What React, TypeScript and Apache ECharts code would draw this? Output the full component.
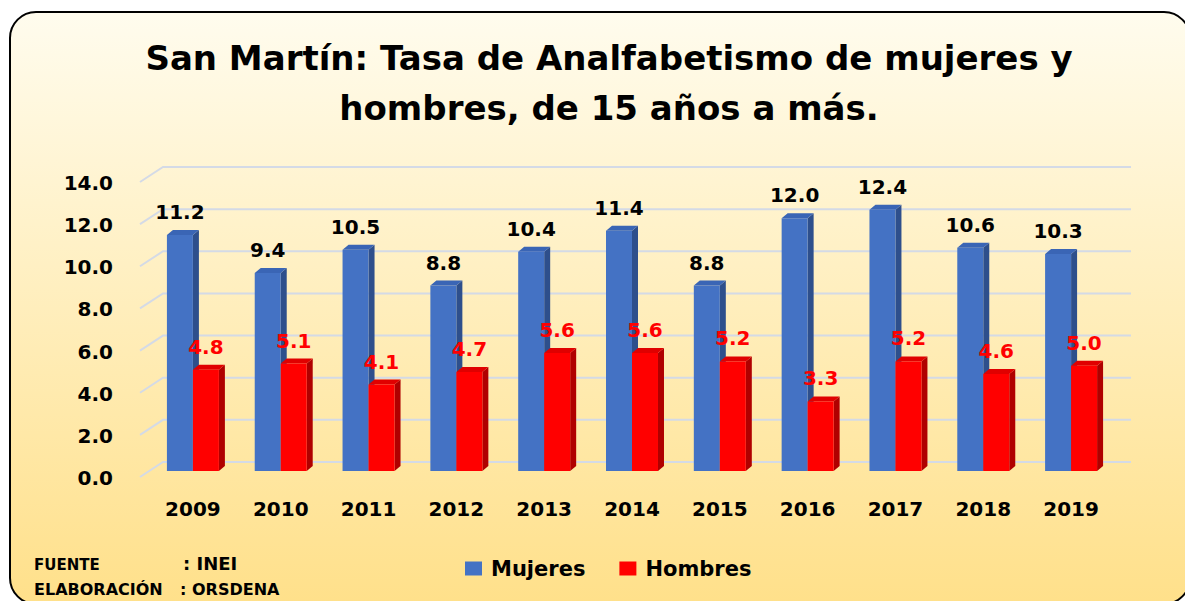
import React, { useEffect, useRef } from 'react';
import * as echarts from 'echarts';

const years = ['2009', '2010', '2011', '2012', '2013', '2014', '2015', '2016', '2017', '2018', '2019'];
const mujeres = [11.2, 9.4, 10.5, 8.8, 10.4, 11.4, 8.8, 12.0, 12.4, 10.6, 10.3];
const hombres = [4.8, 5.1, 4.1, 4.7, 5.6, 5.6, 5.2, 3.3, 5.2, 4.6, 5.0];
const yTicks = [0, 2, 4, 6, 8, 10, 12, 14];
const titleText = 'San Martín: Tasa de Analfabetismo de mujeres y\nhombres, de 15 años a más.';

const FONT = '"DejaVu Sans", Verdana, sans-serif';

function makeBar(side: 'left' | 'right', front: string, sideC: string, top: string, labelColor: string) {
  return (params: any, api: any) => {
    const idx = api.value(0);
    const v = api.value(1);
    const base = api.coord([idx, 0]);
    const tp = api.coord([idx, v]);
    const band = api.size([1, 0])[0];
    const w = band * 0.296;
    const x0 = side === 'left' ? base[0] - w : base[0];
    const yb = base[1];
    const yt = tp[1];
    const dx = 6;
    const dy = 5;
    return {
      type: 'group',
      children: [
        { type: 'polygon', shape: { points: [[x0 + w, yt], [x0 + w + dx, yt - dy], [x0 + w + dx, yb - dy], [x0 + w, yb]] }, style: { fill: sideC } },
        { type: 'polygon', shape: { points: [[x0, yt], [x0 + dx, yt - dy], [x0 + w + dx, yt - dy], [x0 + w, yt]] }, style: { fill: top } },
        { type: 'rect', shape: { x: x0, y: yt, width: w, height: yb - yt }, style: { fill: front } },
        {
          type: 'text',
          style: {
            text: v.toFixed(1), x: x0 + w / 2, y: yt - 23, align: 'center', verticalAlign: 'middle',
            font: `bold 20px ${FONT}`, fill: labelColor,
          },
        },
      ],
    };
  };
}

export default function App() {
  const ref = useRef<HTMLDivElement>(null);
  useEffect(() => {
    if (!ref.current) return;
    const chart = echarts.init(ref.current, undefined, { renderer: 'svg' });
    chart.setOption({
      animation: false,
      title: {
        text: titleText,
        left: 604,
        top: 28,
        textAlign: 'center',
        textStyle: { fontFamily: FONT, fontWeight: 'bold', fontSize: 34, lineHeight: 50, color: '#000' },
      },
      legend: {
        data: ['Mujeres', 'Hombres'],
        left: 460,
        top: 553,
        itemWidth: 17,
        itemHeight: 14,
        itemGap: 34,
        icon: 'rect',
        textStyle: { fontFamily: FONT, fontWeight: 'bold', fontSize: 21, color: '#000', padding: [0, 0, 0, 4] },
      },
      grid: { left: 149, right: 1185 - 1115, top: 176, bottom: 601 - 471 },
      xAxis: {
        type: 'category',
        data: years,
        axisLine: { show: false },
        axisTick: { show: false },
        axisLabel: { margin: 28, fontFamily: FONT, fontWeight: 'bold', fontSize: 20, color: '#000' },
      },
      yAxis: {
        type: 'value',
        min: 0,
        max: 14,
        interval: 2,
        splitLine: { show: false },
        axisLine: { show: false },
        axisTick: { show: false },
        axisLabel: {
          margin: 36,
          formatter: (v: number) => `{a|${v.toFixed(1)}}`,
          rich: { a: { fontFamily: FONT, fontWeight: 'bold', fontSize: 20, color: '#000', padding: [14, 0, 0, 0] } },
        },
      },
      graphic: [
        {
          type: 'rect', z: -10, silent: true,
          shape: { x: 10, y: 12, width: 1180, height: 592, r: 26 },
          style: {
            fill: { type: 'linear', x: 0, y: 0, x2: 0, y2: 1, colorStops: [{ offset: 0, color: '#FFFCEE' }, { offset: 1, color: '#FFE08A' }] },
            stroke: '#000', lineWidth: 2,
          },
        },
        { type: 'text', left: 34, top: 557, style: { text: 'FUENTE', font: `bold 15px ${FONT}`, fill: '#000' } },
        { type: 'text', left: 183, top: 554, style: { text: ': INEI', font: `bold 18px ${FONT}`, fill: '#000' } },
        { type: 'text', left: 34, top: 581, style: { text: 'ELABORACIÓN', font: `bold 16px ${FONT}`, fill: '#000' } },
        { type: 'text', left: 180, top: 581, style: { text: ': ORSDENA', font: `bold 16px ${FONT}`, fill: '#000' } },
      ],
      series: [
        {
          type: 'custom',
          silent: true,
          z: 1,
          data: yTicks.map((t) => [0, t]),
          encode: { x: 0, y: 1 },
          renderItem: (params: any, api: any) => {
            const cs = params.coordSys;
            const y = api.coord([0, api.value(1)])[1];
            return {
              type: 'polyline',
              shape: { points: [[cs.x - 9, y + 6], [cs.x + 14, y - 9], [cs.x + cs.width + 16, y - 9]] },
              style: { stroke: '#D4DAE6', lineWidth: 2, fill: null },
            };
          },
        },
        {
          name: 'Mujeres',
          type: 'custom',
          z: 3,
          itemStyle: { color: '#4472C4' },
          data: mujeres.map((v, i) => [i, v]),
          encode: { x: 0, y: 1 },
          renderItem: makeBar('left', '#4472C4', '#2E4F8C', '#3A65B5', '#000'),
        },
        {
          name: 'Hombres',
          type: 'custom',
          z: 4,
          itemStyle: { color: '#FF0000' },
          data: hombres.map((v, i) => [i, v]),
          encode: { x: 0, y: 1 },
          renderItem: makeBar('right', '#FF0000', '#B00000', '#E00000', '#FF0000'),
        },
      ],
    });
    return () => chart.dispose();
  }, []);
  return <div ref={ref} style={{ position: 'absolute', left: 0, top: 0, width: 1185, height: 601, background: '#fff' }} />;
}
